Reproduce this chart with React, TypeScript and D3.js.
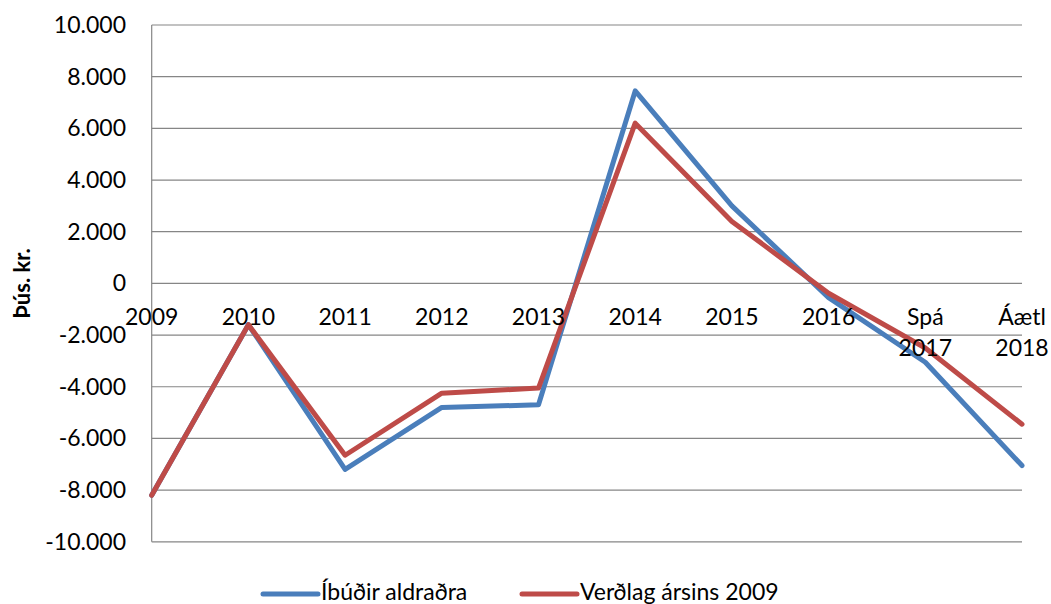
import * as d3 from 'd3';

// Categories (multi-line labels split on \n)
const categories = ['2009', '2010', '2011', '2012', '2013', '2014', '2015', '2016', 'Spá\n2017', 'Áætl\n2018'];
// Series values in þús. kr.
const ibudirAldradra = [-8200, -1600, -7200, -4800, -4700, 7450, 3000, -550, -3050, -7050];
const verdlag2009 = [-8200, -1600, -6650, -4250, -4050, 6200, 2400, -380, -2500, -5450];
const yTicks = [-10000, -8000, -6000, -4000, -2000, 0, 2000, 4000, 6000, 8000, 10000];
const seriesNames = ['Íbúðir aldraðra', 'Verðlag ársins 2009'];

const W = 1051;
const H = 604;
const FONT = 'Lato, "Open Sans", sans-serif';
const COLORS = ['#4a7ebb', '#be4b48'];

const isLocale = d3.formatLocale({
  decimal: ',',
  thousands: '.',
  grouping: [3],
  currency: ['', ' kr.'],
  minus: '-',
});
const fmt = isLocale.format(',');

export default function App() {
  const x = d3.scalePoint<string>().domain(categories).range([151.7, 1022]);
  const y = d3.scaleLinear().domain([-10000, 10000]).range([541.8, 25]);

  const line = d3
    .line<number>()
    .x((_, i) => x(categories[i]) as number)
    .y((d) => y(d));

  const series = [ibudirAldradra, verdlag2009];

  return (
    <svg
      width={W}
      height={H}
      style={{ position: 'absolute', left: 0, top: 0, background: '#fff' }}
      fontFamily={FONT}
    >
      {/* gridlines */}
      {yTicks.map((t) => (
        <line key={t} x1={x.range()[0]} x2={x.range()[1]} y1={y(t)} y2={y(t)} stroke="#868686" strokeWidth={1.2} />
      ))}
      {/* left axis */}
      <line x1={x.range()[0]} x2={x.range()[0]} y1={y(10000)} y2={y(-10000)} stroke="#868686" strokeWidth={1.2} />

      {/* y tick labels */}
      {yTicks.map((t) => (
        <text key={t} x={126} y={y(t)} dy="0.35em" textAnchor="end" fontSize={23} fill="#000">
          {fmt(t)}
        </text>
      ))}

      {/* y title */}
      <text
        transform={`translate(30,${y(0)}) rotate(-90)`}
        textAnchor="middle"
        fontSize={22}
        fontWeight="bold"
        fill="#000"
      >
        Þús. kr.
      </text>

      {/* series */}
      {series.map((s, i) => (
        <path
          key={i}
          d={line(s) || ''}
          fill="none"
          stroke={COLORS[i]}
          strokeWidth={5}
          strokeLinejoin="round"
          strokeLinecap="round"
        />
      ))}

      {/* x labels */}
      {categories.map((c) => (
        <text key={c} x={x(c)} y={y(0) + 42} textAnchor="middle" fontSize={23} fill="#000">
          {c.split('\n').map((part, j) => (
            <tspan key={j} x={x(c)} dy={j === 0 ? 0 : 31}>
              {part}
            </tspan>
          ))}
        </text>
      ))}

      {/* legend */}
      {seriesNames.map((name, i) => {
        const lx = [263, 522][i];
        return (
          <g key={name}>
            <line x1={lx} x2={lx + 55} y1={594} y2={594} stroke={COLORS[i]} strokeWidth={5} strokeLinecap="round" />
            <text x={lx + 58} y={600} fontSize={23} fill="#000">
              {name}
            </text>
          </g>
        );
      })}
    </svg>
  );
}
